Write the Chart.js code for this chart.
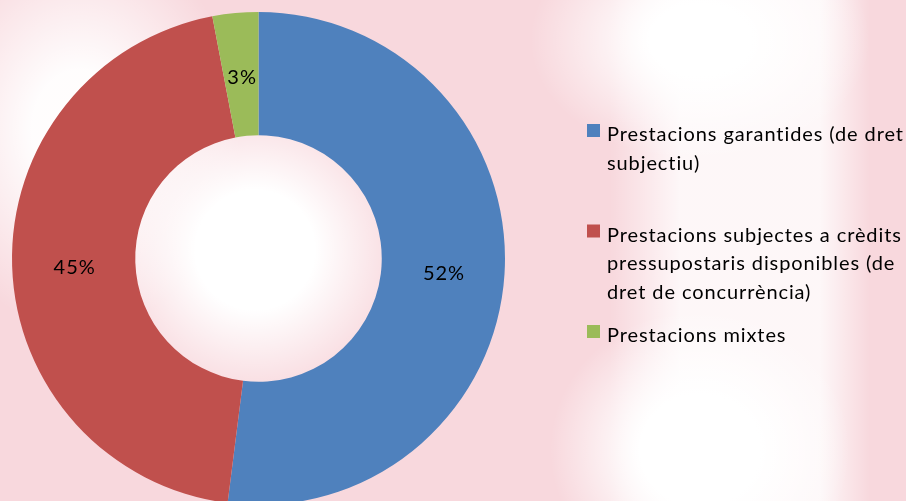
<!DOCTYPE html>
<html>
<head>
<meta charset="utf-8">
<script src="https://cdn.jsdelivr.net/npm/chart.js@4/dist/chart.umd.min.js"></script>
<style>
    html, body {
        margin: 0;
        padding: 0;
        width: 906px;
        height: 501px;
        overflow: hidden;
    }
    body {
        background-color: #f8d8dd;
        background-image:
            radial-gradient(ellipse 150px 150px at 255px 250px, rgba(255,255,255,1) 40%, rgba(255,255,255,0)),
            radial-gradient(ellipse 170px 120px at 700px 40px, rgba(255,255,255,1) 30%, rgba(255,255,255,0)),
            radial-gradient(ellipse 150px 140px at 700px 450px, rgba(255,255,255,1) 40%, rgba(255,255,255,0)),
            linear-gradient(to right, rgba(255,255,255,0) 610px, rgba(255,255,255,0.8) 680px, rgba(255,255,255,0.8) 820px, rgba(255,255,255,0) 870px),
            radial-gradient(ellipse 160px 200px at 80px 130px, rgba(255,255,255,0.95) 30%, rgba(255,255,255,0));
    }
    #wrap {
        position: relative;
        width: 906px;
        height: 517px;
    }
</style>
</head>
<body>
<div id="wrap"><canvas id="share_chart"></canvas></div>
<script>
    // Chart data
    const category_labels = [
        ["Prestacions garantides (de dret", "subjectiu)"],
        ["Prestacions subjectes a crèdits", "pressupostaris disponibles (de", "dret de concurrència)"],
        ["Prestacions mixtes"]
    ]
    const share_values = [52, 45, 3]
    const share_colors = ["#4f81bd", "#c0504d", "#9bbb59"]

    const FONT = "Lato, 'Open Sans', sans-serif"

    // percentage inside each slice
    const SliceLabels = {
        id: "sliceLabels",
        afterDatasetsDraw(chart) {
            const ctx = chart.ctx
            const meta = chart.getDatasetMeta(0)
            const total = share_values.reduce((a, b) => a + b, 0)
            ctx.save()
            ctx.font = "20px " + FONT
            ctx.letterSpacing = "1px"
            ctx.fillStyle = "#000"
            ctx.textAlign = "center"
            ctx.textBaseline = "middle"
            meta.data.forEach((arc, i) => {
                const pos = arc.tooltipPosition()
                const pct = Math.round(share_values[i] / total * 100) + "%"
                ctx.fillText(pct, pos.x + 1, pos.y + 3)
            })
            ctx.restore()
        }
    }

    // legend on the right, one slot per entry like the original
    const SideLegend = {
        id: "sideLegend",
        afterDraw(chart) {
            const ctx = chart.ctx
            const colors = chart.data.datasets[0].backgroundColor
            ctx.save()
            ctx.font = "20px " + FONT
            ctx.letterSpacing = "0.9px"
            ctx.textBaseline = "alphabetic"
            chart.data.labels.forEach((lines, i) => {
                const base = 141 + i * 100.5
                ctx.fillStyle = colors[i]
                ctx.fillRect(587, base - 17, 13, 13)
                ctx.fillStyle = "#000"
                lines.forEach((line, j) => {
                    ctx.fillText(line, 607, base + j * 28.5)
                })
            })
            ctx.restore()
        }
    }

    const ctx_share = document.getElementById("share_chart").getContext("2d")
    const share_chart = new Chart(ctx_share, {
        type: "doughnut",
        data: {
            labels: category_labels,
            datasets: [{
                data: share_values,
                backgroundColor: share_colors,
                borderWidth: 0
            }]
        },
        options: {
            responsive: true,
            maintainAspectRatio: false,
            animation: false,
            cutout: "50%",
            layout: {
                padding: {top: 12, bottom: 12, left: 12, right: 401}
            },
            plugins: {
                legend: {display: false},
                tooltip: {enabled: false}
            }
        },
        plugins: [SliceLabels, SideLegend]
    })
</script>
</body>
</html>
